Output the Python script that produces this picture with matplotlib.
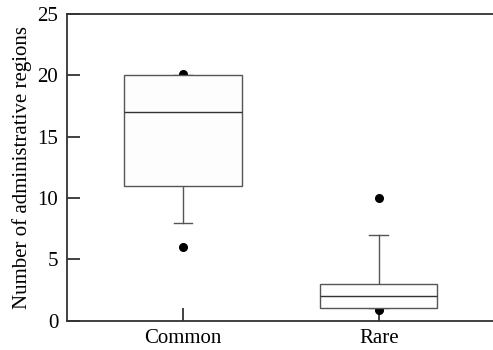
import matplotlib
matplotlib.use("Agg")
import matplotlib.pyplot as plt

# box statistics
groups = ["Common", "Rare"]
q1 = [11, 1]
medians = [17, 2]
q3 = [20, 3]
whisker_lo = [8, 1]
whisker_hi = [20, 7]
outliers = [[6, 20.15], [10, 0.85]]

plt.rcParams["font.family"] = ["Liberation Serif", "DejaVu Serif"]
plt.rcParams["font.size"] = 15

fig = plt.figure(figsize=(4.93, 3.5), dpi=100)
ax = fig.add_axes([0.1353, 0.0837, 0.8647, 0.8763])

stats = []
for i, name in enumerate(groups):
    stats.append({"label": name, "q1": q1[i], "med": medians[i], "q3": q3[i],
                  "whislo": whisker_lo[i], "whishi": whisker_hi[i],
                  "fliers": outliers[i]})

line_col = "#555555"
ax.bxp(stats, positions=[1, 2], widths=0.6, capwidths=0.095, patch_artist=True,
       boxprops=dict(facecolor="#fdfdfd", edgecolor=line_col, linewidth=1.0, zorder=3),
       medianprops=dict(color="#333333", linewidth=1.0, zorder=4),
       whiskerprops=dict(color=line_col, linewidth=1.0),
       capprops=dict(color=line_col, linewidth=1.0),
       flierprops=dict(marker="o", markerfacecolor="black",
                       markeredgecolor="black", markersize=5.5, zorder=2.5))

ax.set_xlim(0.406, 2.584)
ax.set_ylim(0, 25)
ax.set_yticks([0, 5, 10, 15, 20, 25])
ax.set_ylabel("Number of administrative regions", labelpad=4)

ax.spines["right"].set_visible(False)
for s in ["left", "bottom", "top"]:
    ax.spines[s].set_color("#333333")
    ax.spines[s].set_linewidth(1.3)
ax.tick_params(direction="in", length=9.5, width=1.3, color="#333333", pad=6)
ax.tick_params(axis="y", which="both", right=False)
ax.tick_params(axis="x", top=False)

fig.savefig("out.png", dpi=100)
